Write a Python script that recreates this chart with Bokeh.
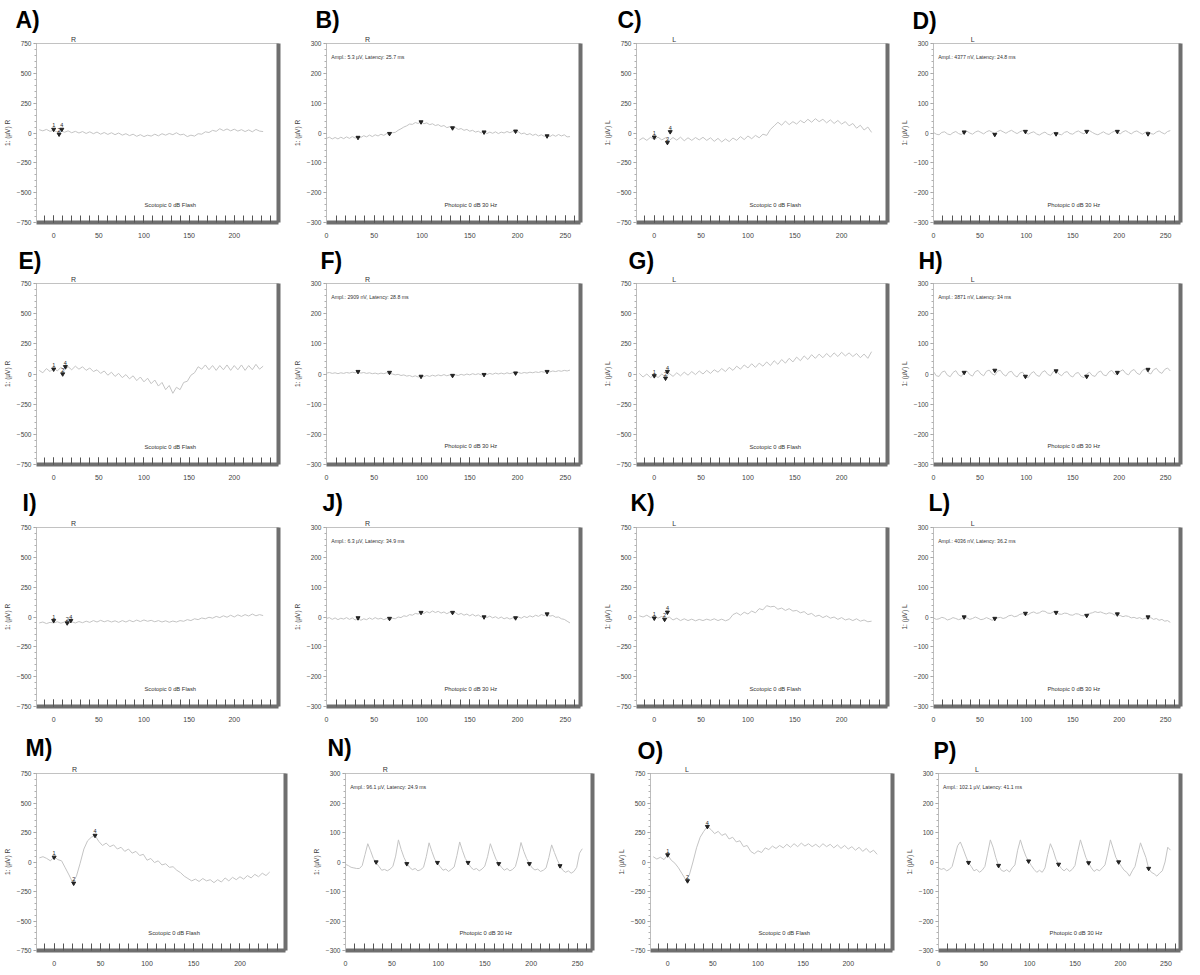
from bokeh.plotting import figure
from bokeh.models import Range1d, LinearAxis, FixedTicker, SingleIntervalTicker, Label, Title
from bokeh.layouts import column, row
from bokeh.embed import file_html
from bokeh.resources import INLINE
from bokeh.core.properties import value

# ---------------- data ----------------
T_SCOT = [-16, -12, -8, -4, 0, 4, 8, 12, 16, 20, 24, 28,
          32, 36, 40, 44, 48, 52, 56, 60, 64, 68, 72, 76,
          80, 84, 88, 92, 96, 100, 104, 108, 112, 116, 120, 124,
          128, 132, 136, 140, 144, 148, 152, 156, 160, 164, 168, 172,
          176, 180, 184, 188, 192, 196, 200, 204, 208, 212, 216, 220,
          224, 228, 232]

T_PHOT = [0, 3, 6, 9, 12, 15, 18, 21, 24, 27, 30, 33,
          36, 39, 42, 45, 48, 51, 54, 57, 60, 63, 66, 69,
          72, 75, 78, 81, 84, 87, 90, 93, 96, 99, 102, 105,
          108, 111, 114, 117, 120, 123, 126, 129, 132, 135, 138, 141,
          144, 147, 150, 153, 156, 159, 162, 165, 168, 171, 174, 177,
          180, 183, 186, 189, 192, 195, 198, 201, 204, 207, 210, 213,
          216, 219, 222, 225, 228, 231, 234, 237, 240, 243, 246, 249,
          252, 255]

# scotopic 0 dB flash traces (uV)
A_TRACE = [28, 18, 30, 14, 22, 8, 20, 6, 18, 2, 14, 0,
           12, -4, 10, -6, 8, -10, 4, -12, 2, -14, 0, -18,
           -6, -22, -10, -28, -14, -30, -18, -26, -10, -24, -6, -18,
           -4, -14, 2, -16, -10, -30, -18, -26, -6, -10, 10, 4,
           22, 14, 36, 20, 34, 18, 32, 16, 28, 12, 26, 10,
           30, 16, 12]
C_TRACE = [-60, -40, -62, -36, -55, -35, -58, -40, -62, -38, -60, -35,
           -65, -40, -62, -38, -58, -36, -62, -40, -70, -45, -75, -50,
           -72, -42, -62, -30, -55, -25, -48, -20, -40, -10, -20, 30,
           60, 90, 65, 100, 70, 95, 75, 105, 85, 115, 90, 120,
           95, 115, 85, 110, 80, 105, 75, 95, 60, 80, 40, 65,
           25, 50, 5]
E_TRACE = [30, 10, 45, 20, 50, 25, 55, 30, 60, 35, 65, 40,
           60, 30, 50, 20, 35, 5, 25, -10, 15, -20, 5, -30,
           -5, -40, -15, -55, -25, -65, -35, -80, -50, -100, -70, -130,
           -95, -160, -110, -130, -70, -60, -10, 10, 60, 40, 75, 35,
           70, 30, 70, 35, 75, 30, 70, 35, 75, 30, 70, 35,
           80, 40, 65]
G_TRACE = [5, -25, 0, -30, -5, -30, 0, -25, 5, -20, 10, -15,
           15, -10, 20, -5, 25, 0, 30, 5, 35, 15, 45, 20,
           55, 30, 65, 40, 75, 50, 85, 55, 90, 65, 100, 70,
           110, 80, 120, 90, 130, 100, 140, 110, 150, 120, 160, 130,
           165, 135, 170, 140, 175, 145, 180, 150, 175, 145, 170, 135,
           165, 130, 185]
I_TRACE = [-50, -42, -55, -45, -50, -40, -52, -42, -55, -40, -50, -38,
           -48, -35, -45, -30, -42, -28, -40, -30, -42, -32, -45, -30,
           -42, -28, -40, -26, -38, -25, -36, -28, -40, -30, -42, -32,
           -44, -34, -42, -30, -36, -22, -30, -15, -22, -8, -15, -2,
           -10, 5, -5, 10, -2, 15, 0, 18, 5, 20, 8, 25,
           10, 20, 12]
K_TRACE = [10, 0, 15, -5, 10, -10, 5, -15, 0, -25, -10, -30,
           -15, -30, -18, -32, -20, -30, -18, -28, -15, -30, -18, -32,
           -20, 20, 35, 15, 40, 25, 50, 35, 70, 60, 95, 85,
           90, 65, 75, 55, 70, 50, 55, 35, 45, 20, 30, 5,
           15, -5, 10, -10, 0, -20, -5, -25, -15, -30, -15, -35,
           -25, -40, -35]
M_TRACE = [35, 45, 30, 10, 45, 20, 10, -50, -110, -175, -120, -10,
           110, 180, 210, 225, 175, 140, 160, 130, 145, 110, 125, 90,
           110, 75, 90, 55, 65, 15, 30, -5, 10, -25, -15, -45,
           -40, -70, -90, -120, -140, -160, -145, -165, -140, -160, -150, -175,
           -150, -170, -135, -160, -130, -150, -125, -145, -115, -135, -105, -125,
           -95, -115, -85]
O_TRACE = [45, 25, 40, 20, 60, 15, -10, -50, -100, -150, -110, 0,
           120, 210, 260, 300, 275, 240, 260, 225, 240, 195, 210, 170,
           180, 130, 140, 90, 70, 95, 80, 120, 105, 135, 115, 140,
           120, 150, 125, 155, 130, 160, 135, 155, 130, 150, 125, 155,
           130, 150, 120, 145, 115, 140, 110, 130, 100, 125, 90, 115,
           80, 100, 65]

# photopic 0 dB 30 Hz flicker traces (uV)
B_TRACE = [-18, -14, -20, -15, -20, -14, -19, -13, -18, -12, -17, -12,
           -15, -9, -13, -7, -12, -6, -10, -4, -8, -2, -5, 1,
           2, 9, 14, 20, 24, 30, 29, 35, 32, 37, 31, 34,
           28, 31, 25, 28, 22, 25, 18, 21, 15, 18, 12, 15,
           9, 12, 6, 9, 3, 6, 0, 4, -2, 3, -1, 4,
           -2, 3, 0, 5, 1, 5, 2, 4, -3, 0, -6, -2,
           -8, -4, -10, -6, -11, -7, -12, -6, -11, -5, -10, -6,
           -13, -12]
D_TRACE = [2, -4, -6, 2, 4, -3, -6, 1, 5, -2, -5, 3,
           6, 0, -4, 3, 7, 2, -3, 4, 8, 3, -2, 5,
           9, 4, -1, 5, 9, 3, -2, 4, 8, 2, -4, 1,
           4, -3, -7, -1, 3, -4, -7, 0, 3, -4, -6, 2,
           5, -2, -4, 3, 7, 1, -3, 4, 8, 2, -3, -6,
           -1, 4, -2, -5, 2, 6, 1, -3, 4, 8, 2, -3,
           4, 7, 1, -4, 2, 5, -2, -4, 3, 7, 1, -3,
           5, 8]
F_TRACE = [3, 5, 2, 4, 1, 4, 2, 5, 3, 6, 4, 6,
           3, 5, 2, 4, 1, 3, 0, 3, 1, 4, 2, 0,
           -3, -1, -5, -3, -7, -5, -9, -6, -10, -7, -9, -5,
           -8, -4, -7, -3, -6, -2, -6, -3, -7, -3, -5, -1,
           -4, 0, -3, 1, -2, 1, -3, 0, -2, 2, -1, 3,
           0, 3, 0, 4, 1, 4, 2, 5, 2, 5, 3, 6,
           4, 7, 5, 8, 6, 9, 7, 10, 8, 11, 9, 12,
           10, 13]
H_TRACE = [8, -6, -8, 6, 10, -4, -9, 5, 11, -3, -8, 6,
           10, -2, -7, 8, 12, 0, -6, 9, 13, 1, -4, 10,
           12, -1, -7, 6, 9, -4, -10, 3, 6, -8, -12, 2,
           8, -4, -8, 6, 11, -1, -6, 8, 12, 0, -6, 5,
           8, -5, -10, 2, 5, -8, -12, 0, 6, -5, -8, 5,
           10, -3, -6, 7, 12, 0, -3, 9, 14, 2, -3, 10,
           15, 3, -2, 12, 17, 5, 0, 14, 19, 7, 2, 15,
           20, 10]
J_TRACE = [-5, -2, -8, -3, -9, -4, -7, -2, -8, -3, -10, -5,
           -11, -6, -9, -3, -8, -2, -7, -4, -9, -5, -10, -4,
           -6, 0, -2, 4, 2, 8, 6, 12, 10, 15, 12, 18,
           14, 20, 15, 19, 13, 17, 11, 16, 12, 15, 8, 12,
           6, 10, 4, 9, 3, 7, 0, 4, -2, 3, -3, 1,
           -5, 0, -6, -2, -7, -3, -6, 0, -4, 2, -2, 4,
           0, 6, 2, 8, 5, 9, 3, 5, -1, 0, -6, -8,
           -14, -20]
L_TRACE = [-3, -8, -6, -1, -4, -10, -7, -2, -5, -9, -6, -1,
           -3, -8, -5, 0, -4, -9, -7, -2, -6, -11, -8, -3,
           -1, -5, -2, 4, 6, 1, 3, 9, 11, 6, 8, 14,
           17, 12, 14, 20, 19, 13, 12, 17, 16, 10, 9, 13,
           12, 7, 6, 11, 10, 5, 4, 9, 12, 14, 18, 15,
           17, 13, 10, 14, 12, 7, 9, 5, 1, 4, 2, -3,
           -1, -5, -2, -7, -4, -6, -2, -8, -5, -11, -8, -14,
           -12, -18]
N_TRACE = [-8, -12, -18, -20, -22, -22, -12, 25, 62, 38, 12, -3,
           -15, -28, -25, -30, -24, -15, 20, 75, 42, 15, -4, -18,
           -26, -22, -30, -26, -18, 18, 65, 36, 10, -4, -16, -28,
           -24, -32, -25, -17, 22, 68, 38, 12, -3, -18, -26, -22,
           -30, -24, -14, 18, 62, 35, 10, -5, -18, -28, -22, -30,
           -25, -15, 20, 66, 36, 12, -5, -20, -27, -24, -32, -28,
           -20, 15, 58, 32, 8, -12, -28, -35, -30, -38, -32, -18,
           30, 45]
P_TRACE = [-20, -25, -22, -30, -25, -15, 20, 55, 68, 45, 20, -3,
           -15, -30, -25, -35, -28, -15, 30, 75, 50, 15, -12, -28,
           -32, -26, -34, -20, -10, 40, 75, 45, 20, 3, -12, -25,
           -35, -28, -35, -20, 25, 62, 40, 10, -8, -22, -30, -22,
           -32, -25, -12, 35, 75, 45, 15, -3, -20, -32, -25, -30,
           -20, -10, 30, 75, 45, 15, 0, -15, -28, -35, -48, -30,
           -15, 25, 65, 40, 15, -22, -35, -40, -48, -38, -30, 0,
           50, 40]

# photopic cursor marks
PHOT_MARK_T = [33, 66, 99, 132, 165, 198, 231]
B_MARKS = [-15, -2, 37, 17, 3, 6, -10]
D_MARKS = [3, -5, 5, -3, 5, 5, -3]
F_MARKS = [8, 5, -8, -5, -2, 3, 8]
H_MARKS = [5, 12, -8, 10, -8, 5, 15]
J_MARKS = [-3, -5, 15, 15, 0, -3, 10]
L_MARKS = [0, -5, 12, 15, 5, 10, 0]
N_MARKS = [0, -6, -2, -2, -6, -6, -13]
P_MARKS = [-2, -12, 3, -8, -3, 0, -22]

# scotopic cursor marks (time, amplitude)
SCOT_MARK_LABELS = ["1", "2", "4"]
A_MARK_T, A_MARK_V = [0, 6, 9], [30, -10, 30]
C_MARK_T, C_MARK_V = [0, 14, 17], [-35, -80, 10]
E_MARK_T, E_MARK_V = [0, 10, 13], [40, 0, 60]
G_MARK_T, G_MARK_V = [0, 12, 14], [-15, -35, 20]
I_MARK_T, I_MARK_V = [0, 15, 19], [-30, -50, -30]
K_MARK_T, K_MARK_V = [0, 11, 14], [-10, -20, 40]
M_MARK_T, M_MARK_V = [0, 21, 44], [40, -180, 225]
O_MARK_T, O_MARK_V = [0, 22, 44], [60, -160, 300]

PANEL_NAMES = ["A", "B", "C", "D", "E", "F", "G", "H",
               "I", "J", "K", "L", "M", "N", "O", "P"]
EYES = ["R", "R", "L", "L", "R", "R", "L", "L",
        "R", "R", "L", "L", "R", "R", "L", "L"]
AMPL_TEXT = {
    "B": "Ampl.: 5.3 µV, Latency: 25.7 ms",
    "D": "Ampl.: 4377 nV, Latency: 24.8 ms",
    "F": "Ampl.: 2909 nV, Latency: 28.8 ms",
    "H": "Ampl.: 3871 nV, Latency: 34 ms",
    "J": "Ampl.: 6.3 µV, Latency: 34.9 ms",
    "L": "Ampl.: 4036 nV, Latency: 36.2 ms",
    "N": "Ampl.: 96.1 µV, Latency: 24.9 ms",
    "P": "Ampl.: 102.1 µV, Latency: 41.1 ms",
}
SCOT_TITLE = "Scotopic  0 dB Flash"
PHOT_TITLE = "Photopic  0 dB 30 Hz"

SCOT = {
    "A": (A_TRACE, A_MARK_T, A_MARK_V), "C": (C_TRACE, C_MARK_T, C_MARK_V),
    "E": (E_TRACE, E_MARK_T, E_MARK_V), "G": (G_TRACE, G_MARK_T, G_MARK_V),
    "I": (I_TRACE, I_MARK_T, I_MARK_V), "K": (K_TRACE, K_MARK_T, K_MARK_V),
    "M": (M_TRACE, M_MARK_T, M_MARK_V), "O": (O_TRACE, O_MARK_T, O_MARK_V),
}
PHOT = {
    "B": (B_TRACE, B_MARKS), "D": (D_TRACE, D_MARKS), "F": (F_TRACE, F_MARKS),
    "H": (H_TRACE, H_MARKS), "J": (J_TRACE, J_MARKS), "L": (L_TRACE, L_MARKS),
    "N": (N_TRACE, N_MARKS), "P": (P_TRACE, P_MARKS),
}

# ---------------- layout / style ----------------
FONT = "Liberation Sans"
TRACE_COL = "#c4c4c4"
SHADOW = "#6f6f6f"

ROW_H = [244, 240, 244, 240]
ROW_TOP = [43, 39, 43, 45]
ROW_BOT = [22, 20, 22, 18]
COL_W = [[290, 310, 297, 287], [290, 310, 297, 287], [290, 310, 297, 287], [309, 305, 288, 282]]
COL_R = [[12, 20, 10, 4], [12, 20, 10, 4], [12, 20, 10, 4], [24, 22, 10, 4]]
LEFT = 28
LABEL_DX = {"A": -21, "B": -11, "C": -19, "D": -21, "E": -18, "F": -6, "G": -8, "H": -15,
            "I": -14, "J": -4, "K": -6, "L": -5, "M": -11, "N": -18, "O": -13, "P": -5}
LABEL_SO = {"A": 2, "B": 1, "C": 1, "D": 0, "E": 0, "F": 0, "G": 0, "H": 0,
            "I": 4, "J": 4, "K": 4, "L": 4, "M": 6, "N": 5, "O": 0, "P": 0}


def make_panel(idx, width, height, top, bottom, right):
    name = PANEL_NAMES[idx]
    eye = EYES[idx]
    scot = name in SCOT
    if scot:
        x0, x1, y0, y1, ystep, eye_x = -19, 249, -750, 750, 250, 20
    else:
        x0, x1, y0, y1, ystep, eye_x = 0, 266, -300, 300, 100, 41
    p = figure(width=width, height=height, x_range=Range1d(x0, x1), y_range=Range1d(y0, y1),
               title=None, toolbar_location=None, output_backend="svg",
               min_border_left=LEFT, min_border_right=right,
               min_border_top=top, min_border_bottom=bottom)
    p.xgrid.visible = False
    p.ygrid.visible = False
    p.outline_line_color = "#c2c2c2"
    p.outline_line_width = 1
    p.background_fill_color = "white"
    p.border_fill_color = "white"

    xa = p.xaxis[0]
    xa.ticker = SingleIntervalTicker(interval=50, num_minor_ticks=5)
    xa.axis_line_color = SHADOW
    xa.axis_line_width = 4
    xa.major_tick_in = 7
    xa.major_tick_out = 0
    xa.minor_tick_in = 7
    xa.minor_tick_out = 0
    xa.major_tick_line_color = "#555555"
    xa.minor_tick_line_color = "#555555"
    xa.major_label_text_font = FONT
    xa.major_label_text_font_size = "7px"
    xa.major_label_text_color = "#444444"
    xa.major_label_standoff = 10

    ya = p.yaxis[0]
    ya.ticker = SingleIntervalTicker(interval=ystep, num_minor_ticks=5)
    ya.axis_line_color = "#bdbdbd"
    ya.major_tick_in = 0
    ya.major_tick_out = 3
    ya.minor_tick_in = 0
    ya.minor_tick_out = 2
    ya.major_tick_line_color = "#9a9a9a"
    ya.minor_tick_line_color = "#b0b0b0"
    ya.major_label_text_font = FONT
    ya.major_label_text_font_size = "6.5px"
    ya.major_label_text_color = "#444444"
    ya.major_label_standoff = 2
    ya.axis_label = "1: (µV) " + eye
    ya.axis_label_text_font = FONT
    ya.axis_label_text_font_size = "6.5px"
    ya.axis_label_text_font_style = "normal"
    ya.axis_label_text_color = "#444444"
    ya.axis_label_standoff = 3

    shadow = LinearAxis(ticker=FixedTicker(ticks=[], minor_ticks=[]),
                        axis_line_color=SHADOW, axis_line_width=4,
                        major_label_text_font_size="0px")
    p.add_layout(shadow, "right")

    if scot:
        trace, mt, mv = SCOT[name]
        ts = T_SCOT[:len(trace)]
        p.line(ts, trace[:len(ts)], line_color=TRACE_COL, line_width=1)
        p.scatter(mt, mv, marker="inverted_triangle", size=4, color="#222222")
        p.text(mt, mv, text=SCOT_MARK_LABELS, text_font=value(FONT),
               text_font_size="5.5px", text_align="center", text_baseline="bottom",
               y_offset=-2, text_color="#222222")
        p.add_layout(Label(x=130, y=-605, text=SCOT_TITLE, text_font=FONT,
                           text_font_size="5.8px", text_align="center",
                           text_baseline="middle", text_color="#333333"))
    else:
        trace, marks = PHOT[name]
        ts = T_PHOT[:len(trace)]
        p.line(ts, trace[:len(ts)], line_color=TRACE_COL, line_width=1)
        p.scatter(PHOT_MARK_T, marks, marker="inverted_triangle", size=4, color="#222222")
        p.add_layout(Label(x=152, y=-240, text=PHOT_TITLE, text_font=FONT,
                           text_font_size="5.8px", text_align="center",
                           text_baseline="middle", text_color="#333333"))
        p.add_layout(Label(x=5, y=255, text=AMPL_TEXT[name], text_font=FONT,
                           text_font_size="5.2px", text_align="left",
                           text_baseline="middle", text_color="#333333"))

    fw = width - LEFT - right
    eye_off = (eye_x - x0) * fw / (x1 - x0) - 2
    p.add_layout(Title(text=eye, align="left", offset=eye_off, text_font=FONT,
                       text_font_size="7px", text_font_style="normal",
                       text_color="#333333", standoff=1), "above")
    p.add_layout(Title(text=name + ")", align="left", offset=LABEL_DX[name], text_font=FONT,
                       text_font_size="23px", text_font_style="bold",
                       text_color="black", standoff=LABEL_SO[name]), "above")
    return p


rows = []
for r in range(4):
    figs = []
    for c in range(4):
        idx = r * 4 + c
        figs.append(make_panel(idx, COL_W[r][c], ROW_H[r], ROW_TOP[r], ROW_BOT[r], COL_R[r][c]))
    rows.append(row(*figs))
layout = column(*rows)

open("out.html", "w").write(file_html(layout, INLINE))
